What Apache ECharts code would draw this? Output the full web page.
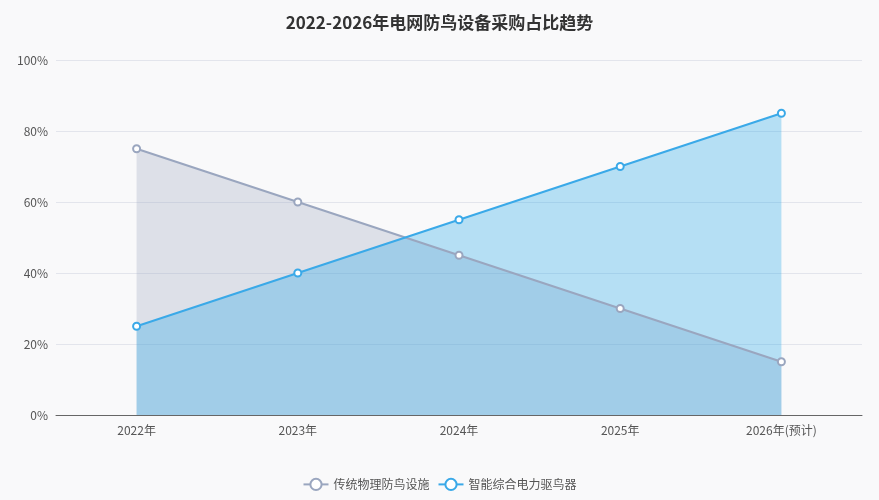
<!DOCTYPE html>
<html>
<head>
<meta charset="utf-8">
<script src="https://cdn.jsdelivr.net/npm/echarts@6/dist/echarts.min.js"></script>
<style>
  html, body { margin: 0; padding: 0; background: #f9f9fa; }
  #main { width: 879px; height: 500px; }
</style>
</head>
<body>
<div id="main"></div>
<script>
const years = ['2022年', '2023年', '2024年', '2025年', '2026年(预计)'];
const traditional = [75, 60, 45, 30, 15];
const smart = [25, 40, 55, 70, 85];
const seriesNames = ['传统物理防鸟设施', '智能综合电力驱鸟器'];

const chart = echarts.init(document.getElementById('main'));

const option = {
  backgroundColor: '#f9f9fa',
  textStyle: { fontFamily: '"Noto Sans CJK SC", "Noto Sans", sans-serif' },
  title: {
    text: '2022-2026年电网防鸟设备采购占比趋势',
    left: 'center',
    top: 9,
    textStyle: { fontSize: 17, fontWeight: 'bold', color: '#333' }
  },
  legend: {
    bottom: 4,
    itemWidth: 25,
    itemHeight: 14,
    textStyle: { color: '#555', fontSize: 12 },
    data: seriesNames
  },
  grid: { left: 56, right: 17, top: 60, bottom: 85 },
  xAxis: {
    type: 'category',
    data: years,
    axisTick: { show: false },
    axisLine: { lineStyle: { color: '#666' } },
    axisLabel: { color: '#555', fontSize: 12, margin: 9 }
  },
  yAxis: {
    type: 'value',
    min: 0,
    max: 100,
    interval: 20,
    axisLabel: { formatter: '{value}%', color: '#555', fontSize: 12 },
    splitLine: { lineStyle: { color: '#e3e5ec' } },
    axisLine: { show: false },
    axisTick: { show: false }
  },
  series: [
    {
      name: seriesNames[0],
      type: 'line',
      data: traditional,
      symbol: 'emptyCircle',
      symbolSize: 7,
      color: '#9aa6bf',
      lineStyle: { width: 2 },
      areaStyle: { color: '#9aa6bf', opacity: 0.3 }
    },
    {
      name: seriesNames[1],
      type: 'line',
      data: smart,
      symbol: 'emptyCircle',
      symbolSize: 7,
      color: '#3aa9e8',
      lineStyle: { width: 2 },
      areaStyle: { color: '#16a2e8', opacity: 0.3 }
    }
  ]
};

chart.setOption(option);
window.addEventListener('resize', () => chart.resize());
</script>
</body>
</html>
